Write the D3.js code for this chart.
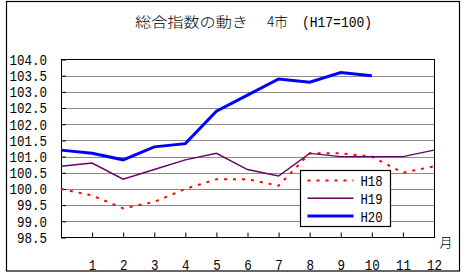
<!DOCTYPE html>
<html>
<head>
<meta charset="utf-8">
<script src="https://cdn.jsdelivr.net/npm/d3@7"></script>
<style>
  body { margin: 0; background: #fff; }
  svg { display: block; }
  .num { font-family: "Liberation Mono", "DejaVu Sans Mono", monospace; font-size: 15px; fill: #000; }
  .jp { font-family: "Noto Sans CJK JP", sans-serif; fill: #000; font-weight: 300; }
</style>
</head>
<body>
<svg id="chart" width="466" height="276"></svg>
<script>
// months: first slot is the unlabeled start point
const categories = ['', '1', '2', '3', '4', '5', '6', '7', '8', '9', '10', '11', '12'];
const yTicks = [98.5, 99.0, 99.5, 100.0, 100.5, 101.0, 101.5, 102.0, 102.5, 103.0, 103.5, 104.0];

const h18 = [100.0, 99.8, 99.4, 99.6, 100.0, 100.3, 100.3, 100.1, 101.1, 101.1, 101.0, 100.5, 100.7];
const h19 = [100.7, 100.8, 100.3, 100.6, 100.9, 101.1, 100.6, 100.4, 101.1, 101.0, 101.0, 101.0, 101.2];
const h20 = [101.2, 101.1, 100.9, 101.3, 101.4, 102.4, 102.9, 103.4, 103.3, 103.6, 103.5];

const series = [
  { name: 'H18', values: h18, color: '#ff0000', width: 2, dash: '3,6' },
  { name: 'H19', values: h19, color: '#660066', width: 1.4, dash: null },
  { name: 'H20', values: h20, color: '#0000ff', width: 3, dash: null }
];

const plot = { left: 61, right: 434, top: 59.5, bottom: 237.5 };
const CHAR_W = 7.5;

const svg = d3.select('#chart');

// outer frame
svg.append('rect')
  .attr('x', 6.5).attr('y', 1.5)
  .attr('width', 453).attr('height', 269.5)
  .attr('fill', 'none').attr('stroke', '#000').attr('stroke-width', 1.2);

// title
const title = [
  { text: '総合指数の動き', x: 135, len: 113, cls: 'jp', size: 14 },
  { text: '4市', x: 267, len: 21, cls: 'jp', size: 14 },
  { text: '(H17=100)', x: 302, len: 70, cls: 'num', size: 15 }
];
svg.selectAll('.title')
  .data(title)
  .join('text')
  .attr('class', d => 'title ' + d.cls)
  .attr('x', d => d.x)
  .attr('y', 27)
  .style('font-size', d => d.size + 'px')
  .attr('textLength', d => d.len)
  .attr('lengthAdjust', 'spacingAndGlyphs')
  .text(d => d.text);

const x = d3.scalePoint().domain(categories).range([plot.left, plot.right]);
const y = d3.scaleLinear().domain([98.5, 104.0]).range([plot.bottom, plot.top]);

// gridlines
svg.append('g')
  .selectAll('line')
  .data(yTicks.slice(1, -1))
  .join('line')
  .attr('x1', plot.left).attr('x2', plot.right)
  .attr('y1', d => Math.round(y(d)) + 0.5).attr('y2', d => Math.round(y(d)) + 0.5)
  .attr('stroke', '#8c8c8c').attr('stroke-width', 1);

// y axis with inward ticks
const yAxis = svg.append('g')
  .attr('transform', `translate(${plot.left},0)`)
  .call(d3.axisLeft(y).tickValues(yTicks).tickSize(-5).tickPadding(14).tickFormat(d3.format('.1f')));
yAxis.select('.domain').remove();
yAxis.selectAll('.tick line').attr('stroke', '#000');
yAxis.selectAll('text')
  .attr('class', 'num')
  .attr('font-family', null).attr('font-size', null)
  .attr('textLength', d => d3.format('.1f')(d).length * CHAR_W)
  .attr('lengthAdjust', 'spacingAndGlyphs');

// x axis with inward ticks
const xAxis = svg.append('g')
  .attr('transform', `translate(0,${plot.bottom})`)
  .call(d3.axisBottom(x).tickSize(-5).tickPadding(22));
xAxis.select('.domain').remove();
xAxis.selectAll('.tick line').attr('stroke', '#000');
xAxis.selectAll('text')
  .attr('class', 'num')
  .attr('font-family', null).attr('font-size', null)
  .attr('textLength', d => Math.max(d.length, 1) * CHAR_W)
  .attr('lengthAdjust', 'spacingAndGlyphs');

// plot frame
svg.append('rect')
  .attr('x', plot.left + 0.5).attr('y', plot.top)
  .attr('width', plot.right - plot.left).attr('height', plot.bottom - plot.top)
  .attr('fill', 'none').attr('stroke', '#000').attr('stroke-width', 1);

// 月 label
svg.append('text')
  .attr('class', 'jp')
  .attr('x', 446).attr('y', 247)
  .attr('text-anchor', 'middle')
  .style('font-size', '13px')
  .text('月');

// lines
const line = d3.line()
  .x((d, i) => x(categories[i]))
  .y(d => y(d));

svg.append('g')
  .selectAll('path')
  .data(series)
  .join('path')
  .attr('d', d => line(d.values))
  .attr('fill', 'none')
  .attr('stroke', d => d.color)
  .attr('stroke-width', d => d.width)
  .attr('stroke-dasharray', d => d.dash);

// legend
const legend = svg.append('g').attr('transform', 'translate(300.5,170.5)');
legend.append('rect')
  .attr('width', 90).attr('height', 56)
  .attr('fill', '#fff').attr('stroke', '#000').attr('stroke-width', 1.2);
const item = legend.selectAll('.item')
  .data(series)
  .join('g')
  .attr('class', 'item')
  .attr('transform', (d, i) => `translate(0,${10 + i * 17.8})`);
item.append('line')
  .attr('x1', 7).attr('x2', 53)
  .attr('stroke', d => d.color)
  .attr('stroke-width', d => d.width)
  .attr('stroke-dasharray', d => d.dash);
item.append('text')
  .attr('class', 'num')
  .attr('x', 60).attr('y', 5.5)
  .attr('textLength', 22)
  .attr('lengthAdjust', 'spacingAndGlyphs')
  .text(d => d.name);
</script>
</body>
</html>
